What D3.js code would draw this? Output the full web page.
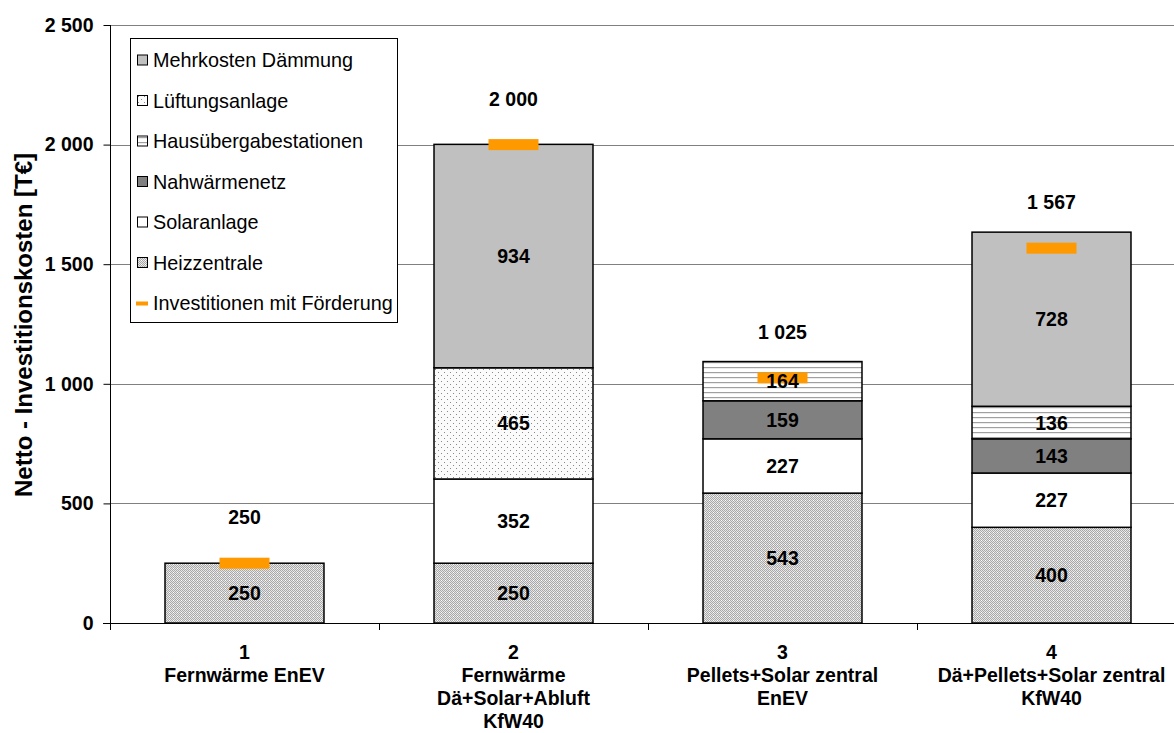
<!DOCTYPE html>
<html>
<head>
<meta charset="utf-8">
<script src="https://cdn.jsdelivr.net/npm/d3@7/dist/d3.min.js"></script>
<style>
  html, body { margin: 0; padding: 0; background: #fff; }
  svg { display: block; font-family: "Liberation Sans", Arial, sans-serif; }
</style>
</head>
<body>
<svg id="chart" width="1174" height="733"></svg>
<script>
// Variants (x categories)
const categories = ["1", "2", "3", "4"];
const categoryLines = [
  ["1", "Fernwärme EnEV"],
  ["2", "Fernwärme", "Dä+Solar+Abluft", "KfW40"],
  ["3", "Pellets+Solar zentral", "EnEV"],
  ["4", "Dä+Pellets+Solar zentral", "KfW40"]
];

// Cost components in T€, stacked bottom to top
const heizzentrale = [250, 250, 543, 400];
const solaranlage = [0, 352, 227, 227];
const nahwaermenetz = [0, 0, 159, 143];
const hausuebergabe = [0, 0, 164, 136];
const lueftung = [0, 465, 0, 0];
const daemmung = [0, 934, 0, 728];

// Investment after subsidies
const mitFoerderung = [250, 2000, 1025, 1567];

const yTicks = [0, 500, 1000, 1500, 2000, 2500];

const series = [
  { name: "Heizzentrale", values: heizzentrale, fill: "url(#patHeiz)" },
  { name: "Solaranlage", values: solaranlage, fill: "#ffffff" },
  { name: "Nahwärmenetz", values: nahwaermenetz, fill: "#808080" },
  { name: "Hausübergabestationen", values: hausuebergabe, fill: "url(#patHaus)" },
  { name: "Lüftungsanlage", values: lueftung, fill: "url(#patLueft)" },
  { name: "Mehrkosten Dämmung", values: daemmung, fill: "#c0c0c0" }
];

const svg = d3.select("#chart");
const fmt = v => d3.format(",")(v).replace(/,/g, " ");

// Patterns
const defs = svg.append("defs");
const pH = defs.append("pattern").attr("id", "patHeiz").attr("patternUnits", "userSpaceOnUse")
  .attr("width", 4).attr("height", 4);
pH.append("rect").attr("width", 4).attr("height", 4).attr("fill", "#e6e6e6");
pH.append("path").attr("d", "M0,0h1v1h-1z M2,0h1v1h-1z M1,1h1v1h-1z M3,1h1v1h-1z M0,2h1v1h-1z M2,2h1v1h-1z M1,3h1v1h-1z M3,3h1v1h-1z")
  .attr("fill", "#a8a8a8");
pH.append("rect").attr("x", 1).attr("y", 0).attr("width", 1).attr("height", 1).attr("fill", "#ffffff");

const pL = defs.append("pattern").attr("id", "patLueft").attr("patternUnits", "userSpaceOnUse")
  .attr("width", 6).attr("height", 6);
pL.append("rect").attr("width", 6).attr("height", 6).attr("fill", "#fbfbfb");
pL.append("rect").attr("x", 0).attr("y", 0).attr("width", 1).attr("height", 1).attr("fill", "#8a8a8a");
pL.append("rect").attr("x", 3).attr("y", 3).attr("width", 1).attr("height", 1).attr("fill", "#8a8a8a");

const pHs = defs.append("pattern").attr("id", "patHaus").attr("patternUnits", "userSpaceOnUse")
  .attr("width", 10).attr("height", 5);
pHs.append("rect").attr("width", 10).attr("height", 5).attr("fill", "#ffffff");
pHs.append("rect").attr("x", 0).attr("y", 2).attr("width", 10).attr("height", 1.2).attr("fill", "#a0a0a0");

// Scales
const x = d3.scaleBand().domain(categories).range([110, 1186]).paddingInner(0.409).paddingOuter(0.2045);
const y = d3.scaleLinear().domain([0, 2500]).range([623, 25]);

// Gridlines
svg.append("g").selectAll("line").data(yTicks.filter(d => d > 0)).join("line")
  .attr("x1", 110).attr("x2", 1186)
  .attr("y1", d => Math.round(y(d)) + 0.5).attr("y2", d => Math.round(y(d)) + 0.5)
  .attr("stroke", "#808080").attr("stroke-width", 1);

// Stacked bars
const stackData = categories.map((c, i) => {
  const o = { cat: c };
  series.forEach(s => { o[s.name] = s.values[i]; });
  return o;
});
const stack = d3.stack().keys(series.map(s => s.name));
const layers = stack(stackData);

const gBars = svg.append("g");
layers.forEach((layer, li) => {
  const s = series[li];
  layer.forEach(seg => {
    const v = seg[1] - seg[0];
    if (v <= 0) return;
    gBars.append("rect")
      .attr("x", x(seg.data.cat))
      .attr("y", y(seg[1]))
      .attr("width", x.bandwidth())
      .attr("height", y(seg[0]) - y(seg[1]))
      .attr("fill", s.fill)
      .attr("stroke", "#000")
      .attr("stroke-width", 1.5);
  });
});

// Subsidised investment markers
svg.append("g").selectAll("rect").data(categories).join("rect")
  .attr("x", d => x(d) + x.bandwidth() / 2 - 25)
  .attr("y", (d, i) => y(mitFoerderung[i]) - 5.5)
  .attr("width", 50).attr("height", 11)
  .attr("fill", "#ff9900");

// Segment value labels
const gLab = svg.append("g").attr("font-weight", "bold").attr("font-size", 19.5)
  .attr("text-anchor", "middle").attr("fill", "#000");
layers.forEach(layer => {
  layer.forEach(seg => {
    const v = seg[1] - seg[0];
    if (v <= 0) return;
    gLab.append("text")
      .attr("x", x(seg.data.cat) + x.bandwidth() / 2)
      .attr("y", y((seg[0] + seg[1]) / 2))
      .attr("dy", "0.36em")
      .text(fmt(v));
  });
});

// Subsidised totals above the markers
svg.append("g").attr("font-weight", "bold").attr("font-size", 19.5).attr("text-anchor", "middle")
  .selectAll("text").data(categories).join("text")
  .attr("x", d => x(d) + x.bandwidth() / 2)
  .attr("y", (d, i) => y(mitFoerderung[i]) - 46)
  .attr("dy", "0.36em")
  .text((d, i) => fmt(mitFoerderung[i]));

// Y axis
const yAxis = d3.axisLeft(y).tickValues(yTicks).tickSize(7).tickPadding(10).tickFormat(fmt);
const gy = svg.append("g").attr("transform", "translate(110.5,0)").call(yAxis);
gy.select(".domain").attr("stroke", "#000").attr("d", "M0," + y(2500) + "V" + y(0));
gy.selectAll(".tick line").attr("stroke", "#000");
gy.selectAll(".tick text").attr("font-family", "Liberation Sans, Arial, sans-serif")
  .attr("font-size", 19.5).attr("font-weight", "bold").attr("fill", "#000");

// X axis
svg.append("line").attr("x1", 103).attr("x2", 1186).attr("y1", 623.5).attr("y2", 623.5)
  .attr("stroke", "#000").attr("stroke-width", 1);
const boundaries = categories.map(c => x(c) - x.step() * x.paddingInner() / 2).concat([1186]);
svg.append("g").selectAll("line").data(boundaries).join("line")
  .attr("x1", d => Math.round(d) + 0.5).attr("x2", d => Math.round(d) + 0.5)
  .attr("y1", 623).attr("y2", 630).attr("stroke", "#000");

const gx = svg.append("g").attr("font-weight", "bold").attr("font-size", 19.5).attr("text-anchor", "middle");
categories.forEach((c, i) => {
  const t = gx.append("text").attr("x", x(c) + x.bandwidth() / 2).attr("y", 659);
  categoryLines[i].forEach((ln, k) => {
    t.append("tspan").attr("x", x(c) + x.bandwidth() / 2).attr("y", 659 + k * 23).text(ln);
  });
});

// Y axis title
svg.append("text")
  .attr("transform", "translate(32,325) rotate(-90)")
  .attr("text-anchor", "middle").attr("font-weight", "bold").attr("font-size", 24)
  .text("Netto - Investitionskosten [T€]");

// Legend
const legendItems = [
  { name: "Mehrkosten Dämmung", fill: "#c0c0c0" },
  { name: "Lüftungsanlage", fill: "url(#patLueft)" },
  { name: "Hausübergabestationen", fill: "url(#patHaus)" },
  { name: "Nahwärmenetz", fill: "#808080" },
  { name: "Solaranlage", fill: "#ffffff" },
  { name: "Heizzentrale", fill: "url(#patHeiz)" },
  { name: "Investitionen mit Förderung", line: true }
];
const lg = svg.append("g");
lg.append("rect").attr("x", 130.5).attr("y", 38.5).attr("width", 267).attr("height", 284)
  .attr("fill", "#fff").attr("stroke", "#000").attr("stroke-width", 1);
legendItems.forEach((it, i) => {
  const cy = 60 + i * 40.5;
  if (it.line) {
    lg.append("rect").attr("x", 136).attr("y", cy - 1.5).attr("width", 12).attr("height", 4).attr("fill", "#ff9900");
  } else {
    lg.append("rect").attr("x", 137.5).attr("y", cy - 5).attr("width", 10).attr("height", 10)
      .attr("fill", it.fill).attr("stroke", "#000").attr("stroke-width", 1);
  }
  lg.append("text").attr("x", 153).attr("y", cy).attr("dy", "0.36em")
    .attr("font-size", 19.8).text(it.name);
});
</script>
</body>
</html>
